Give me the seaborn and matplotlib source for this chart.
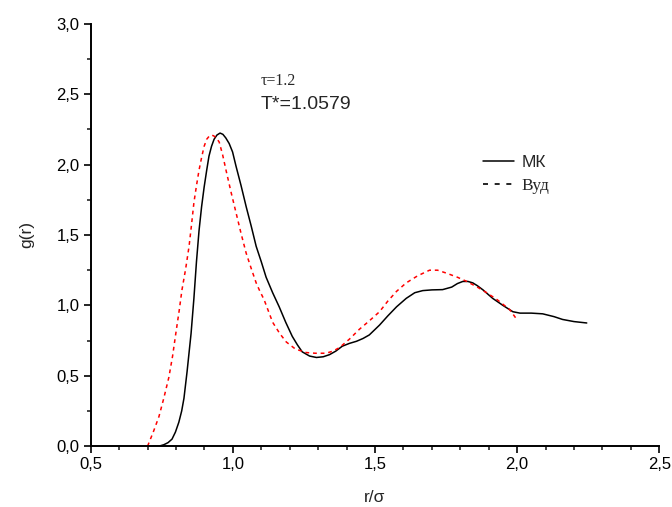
import numpy as np
import pandas as pd
import matplotlib
matplotlib.use("Agg")
import matplotlib.pyplot as plt
from matplotlib.lines import Line2D
from matplotlib.ticker import MultipleLocator, FuncFormatter
import seaborn as sns

# data
r_mk = [0.72, 0.74, 0.757, 0.772, 0.786, 0.798, 0.810, 0.82, 0.828, 0.839, 0.853, 0.863,
        0.872, 0.881, 0.89, 0.899, 0.908, 0.916, 0.925, 0.934, 0.944, 0.955, 0.965, 0.975,
        0.987, 0.999, 1.011, 1.029, 1.047, 1.065, 1.082, 1.10, 1.117, 1.14, 1.163, 1.186,
        1.209, 1.227, 1.244, 1.27, 1.294, 1.318, 1.34, 1.362, 1.385, 1.41, 1.435, 1.458,
        1.48, 1.516, 1.545, 1.576, 1.61, 1.64, 1.668, 1.70, 1.738, 1.77, 1.79, 1.809,
        1.827, 1.844, 1.86, 1.88, 1.914, 1.95, 1.985, 2.01, 2.05, 2.09, 2.13, 2.16,
        2.20, 2.245]
g_mk = [0.0, 0.0, 0.01, 0.025, 0.05, 0.10, 0.17, 0.25, 0.34, 0.53, 0.80, 1.05,
        1.31, 1.53, 1.70, 1.84, 1.96, 2.06, 2.13, 2.18, 2.21, 2.224, 2.215, 2.19,
        2.15, 2.09, 1.99, 1.85, 1.70, 1.56, 1.42, 1.31, 1.20, 1.09, 0.99, 0.88,
        0.78, 0.72, 0.67, 0.64, 0.63, 0.635, 0.65, 0.675, 0.71, 0.73, 0.745, 0.765,
        0.79, 0.86, 0.925, 0.99, 1.05, 1.09, 1.105, 1.11, 1.112, 1.13, 1.155, 1.17,
        1.17, 1.16, 1.14, 1.11, 1.05, 1.00, 0.955, 0.945, 0.945, 0.94,
        0.92, 0.90, 0.885, 0.875]

r_wood = [0.70, 0.72, 0.74, 0.757, 0.775, 0.788, 0.80, 0.811, 0.821, 0.834, 0.846, 0.855,
          0.863, 0.872, 0.881, 0.89, 0.899, 0.908, 0.916, 0.923, 0.932, 0.942, 0.952,
          0.964, 0.976, 0.993, 1.011, 1.029, 1.047, 1.065, 1.082, 1.093, 1.11, 1.125,
          1.14, 1.165, 1.188, 1.22, 1.258, 1.29, 1.328, 1.352, 1.375, 1.41, 1.445,
          1.48, 1.516, 1.545, 1.576, 1.61, 1.65, 1.692, 1.72, 1.75, 1.79, 1.823, 1.86,
          1.893, 1.93, 1.974, 1.999]
g_wood = [0.0, 0.1, 0.21, 0.34, 0.49, 0.64, 0.81, 0.96, 1.11, 1.26, 1.42, 1.58,
          1.73, 1.85, 1.96, 2.05, 2.13, 2.18, 2.20, 2.21, 2.205, 2.19, 2.16,
          2.07, 1.96, 1.81, 1.66, 1.51, 1.37, 1.26, 1.16, 1.11, 1.04, 0.96,
          0.88, 0.80, 0.74, 0.69, 0.665, 0.66, 0.66, 0.675, 0.70, 0.76, 0.83,
          0.89, 0.955, 1.03, 1.10, 1.16, 1.21, 1.25, 1.25, 1.23, 1.20, 1.17, 1.13,
          1.09, 1.04, 0.97, 0.90]

df_mk = pd.DataFrame({'r': r_mk, 'g': g_mk})
df_wood = pd.DataFrame({'r': r_wood, 'g': g_wood})

sns.set_style("ticks")
plt.rcParams['font.family'] = ['Liberation Sans', 'DejaVu Sans']

fig = plt.figure(figsize=(6.72, 5.07), dpi=100)
ax = fig.add_axes([0.135, 0.12, 0.846, 0.833])

sns.lineplot(data=df_mk, x='r', y='g', color='black', linewidth=1.1, ax=ax,
             sort=False, estimator=None)
sns.lineplot(data=df_wood, x='r', y='g', color='red', linewidth=1.1, ax=ax,
             linestyle=(0, (2.5, 2.5)), sort=False, estimator=None)

ax.set_xlim(0.5, 2.5)
ax.set_ylim(0, 3.0)
ax.xaxis.set_major_locator(MultipleLocator(0.5))
ax.xaxis.set_minor_locator(MultipleLocator(0.1))
ax.yaxis.set_major_locator(MultipleLocator(0.5))
ax.yaxis.set_minor_locator(MultipleLocator(0.25))
fmt = FuncFormatter(lambda v, p: f"{v:.1f}".replace('.', ','))
ax.xaxis.set_major_formatter(fmt)
ax.yaxis.set_major_formatter(fmt)
ax.tick_params(which='major', length=5, width=1.2, labelsize=12, colors='black', pad=3)
ax.tick_params(which='minor', length=3, width=1.2)
for s in ['left', 'bottom']:
    ax.spines[s].set_linewidth(1.4)
    ax.spines[s].set_color('black')
sns.despine(ax=ax)

ax.set_xlabel('r/σ', fontsize=12.5, labelpad=13)
ax.set_ylabel('g(r)', fontsize=12.5, labelpad=16)

ax.text(1.096, 2.567, 'τ=1.2', fontsize=11.5, va='baseline',
        family=['Liberation Serif', 'DejaVu Serif'])
ax.text(1.096, 2.397, 'T*=1.0579', fontsize=14, va='baseline')

handles = [Line2D([], [], color='black', linewidth=1.1),
           Line2D([], [], color='black', linewidth=1.2, linestyle=(0, (3, 4)))]
leg = ax.legend(handles, ['МК', 'Вуд'], loc='upper left', bbox_to_anchor=(0.69, 0.69),
                frameon=False, fontsize=12.5, handlelength=1.8, handletextpad=0.4,
                labelspacing=0.45, borderpad=0, borderaxespad=0)
leg.get_texts()[1].set_family(['Liberation Serif', 'DejaVu Serif'])

fig.savefig('out.png', dpi=100)
